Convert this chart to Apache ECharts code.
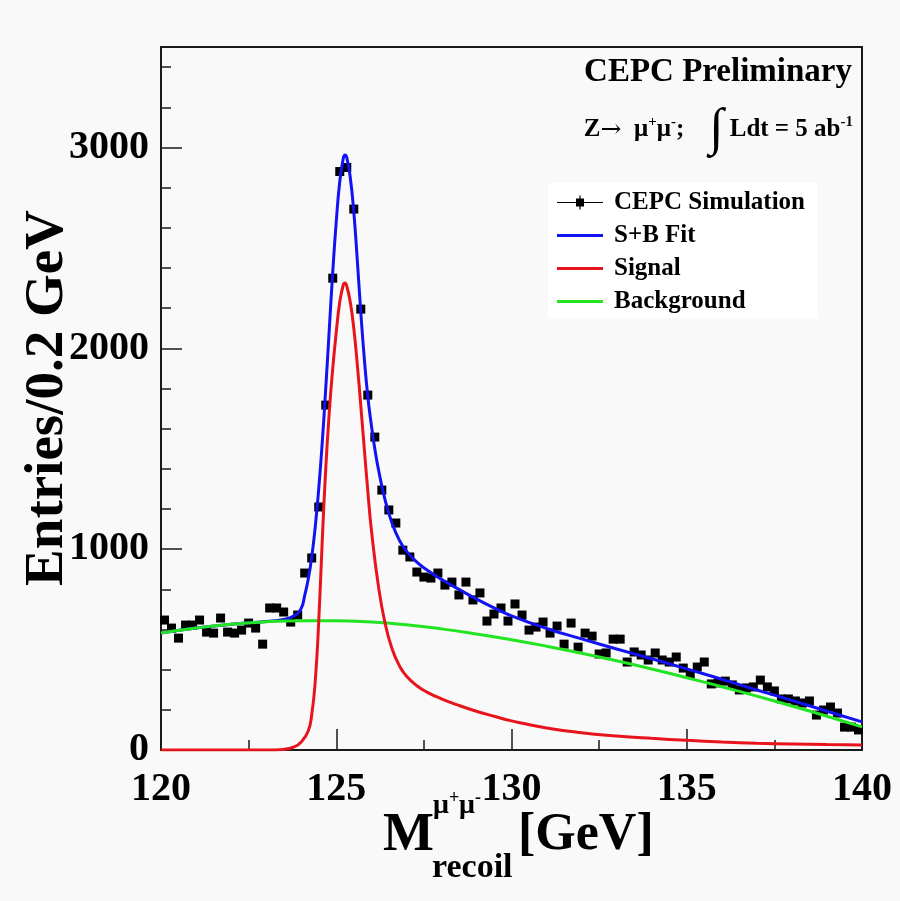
<!DOCTYPE html>
<html>
<head>
<meta charset="utf-8">
<script src="https://cdn.jsdelivr.net/npm/echarts@6/dist/echarts.min.js"></script>
<style>
html,body{margin:0;padding:0;background:#f9f9f9;}
#chart{width:900px;height:901px;}
</style>
</head>
<body>
<div id="chart"></div>
<script>
// ---------------- data ----------------
const binLow = 120;
const binWidth = 0.2;
// CEPC simulation entries per 0.2 GeV bin, 120.0 - 140.0 GeV (100 bins)
const counts = [
  647, 607, 557, 622, 622, 647, 587, 582, 657, 587,
  582, 597, 632, 607, 527, 707, 707, 687, 637, 672,
  881, 956, 1210, 1717, 2349, 2880, 2900, 2693, 2195, 1767,
  1558, 1294, 1195, 1130, 995, 961, 886, 861, 856, 881,
  821, 836, 772, 836, 747, 782, 642, 677, 707, 642,
  727, 672, 597, 612, 637, 582, 617, 527, 632, 512,
  582, 567, 478, 483, 552, 552, 438, 488, 473, 448,
  483, 448, 438, 463, 408, 378, 413, 438, 329, 334,
  343, 324, 299, 309, 314, 348, 314, 294, 254, 254,
  244, 234, 244, 174, 199, 214, 184, 114, 114, 100
];
// S+B fit curve
const fitX = [120,121,122,123,123.5,123.8,124.0,124.1,124.2,124.3,124.4,124.5,124.6,124.7,124.8,124.9,
  125.0,125.1,125.2,125.25,125.3,125.4,125.5,125.6,125.7,125.8,125.9,126.0,126.1,126.2,126.4,126.6,126.8,
  127.0,127.3,127.6,128.0,128.5,129.0,129.5,130,131,132,133,134,135,136,137,138,139,140];
const fitY = [582,607,626,640,650,668,705,770,850,960,1110,1300,1530,1800,2090,2380,
  2630,2830,2945,2962,2950,2850,2680,2440,2180,1950,1760,1620,1500,1400,1240,1125,1045,
  990,935,895,850,800,752,708,668,605,553,503,454,404,352,299,247,193,140];
// Signal curve
const sigX = [120,123,123.5,123.8,124.0,124.2,124.3,124.4,124.5,124.6,124.7,124.8,124.9,
  125.0,125.1,125.2,125.25,125.3,125.4,125.5,125.6,125.7,125.8,125.9,126.0,126.2,126.4,126.6,126.8,
  127.0,127.3,127.6,128.0,128.5,129.0,129.5,130,131,132,133,134,135,136,137,138,139,140];
const sigY = [0,0,3,15,40,95,175,340,640,1040,1400,1680,1900,
  2080,2230,2315,2325,2310,2230,2100,1920,1715,1500,1290,1100,820,625,500,420,
  368,320,287,255,222,193,168,145,110,86,70,58,48,40,34,30,27,25];
// Background curve
const bgX = [120,121,122,123,124,125,126,127,128,129,130,131,132,133,134,135,136,137,138,139,140];
const bgY = [582,607,626,638,644,644,637,623,603,578,549,517,482,444,403,360,315,268,219,168,115];

const seriesNames = ['CEPC Simulation', 'S+B Fit', 'Signal', 'Background'];
const xRange = [120, 140];
const yRange = [0, 3500];

// ---------------- build ----------------
const zip = (xs, ys) => xs.map((x, i) => [x, ys[i]]);
const pointData = counts.map((c, i) => [binLow + binWidth * (i + 0.5), c]);

const FONT = "'Liberation Serif', 'Times New Roman', serif";
const BLUE = '#1212f2', RED = '#e8141c', GREEN = '#22e422';
const lineIcon = 'path://M0,0 M46,16 M0,6.5 H46 V9.5 H0 Z';

const chart = echarts.init(document.getElementById('chart'), null, {renderer: 'canvas'});
chart.setOption({
  backgroundColor: '#f9f9f9',
  animation: false,
  grid: {left: 161, top: 47, width: 701, height: 703, show: true, containLabel: false,
         outerBoundsMode: 'none',
         borderColor: '#1a1a1a', borderWidth: 2, backgroundColor: 'transparent'},
  legend: {
    orient: 'vertical', left: 548, top: 183,
    backgroundColor: '#ffffff', padding: [7, 12, 4, 9],
    itemWidth: 46, itemHeight: 16, itemGap: 8,
    textStyle: {fontFamily: FONT, fontWeight: 'bold', fontSize: 25, color: '#000', padding: [0, 0, 0, 6]},
    itemStyle: {borderWidth: 0},
    data: [
      {name: seriesNames[0], icon: 'path://M0,0 M46,16 M0,7.4 H46 V8.6 H0 Z M19,4 H27 V12 H19 Z M22.4,1 H23.6 V15 H22.4 Z'},
      {name: seriesNames[1], icon: lineIcon},
      {name: seriesNames[2], icon: lineIcon},
      {name: seriesNames[3], icon: lineIcon}
    ]
  },
  xAxis: {
    type: 'value', min: xRange[0], max: xRange[1], interval: 5,
    axisLine: {show: true, lineStyle: {color: '#1a1a1a', width: 2}},
    axisTick: {show: true, inside: true, length: 21, lineStyle: {color: '#1a1a1a', width: 1.5}},
    minorTick: {show: true, splitNumber: 2, length: 10, lineStyle: {color: '#1a1a1a', width: 1.5}},
    axisLabel: {fontFamily: FONT, fontWeight: 'bold', fontSize: 40, color: '#000', margin: 20},
    splitLine: {show: false}, minorSplitLine: {show: false}
  },
  yAxis: [
    {
      type: 'value', min: yRange[0], max: yRange[1], interval: 1000,
      axisLine: {show: true, lineStyle: {color: '#1a1a1a', width: 2}},
      axisTick: {show: true, inside: true, length: 21, lineStyle: {color: '#1a1a1a', width: 1.5}},
      axisLabel: {fontFamily: FONT, fontWeight: 'bold', fontSize: 40, color: '#000', margin: 12,
                  showMaxLabel: false, formatter: v => (v % 1000 === 0 ? String(v) : '')},
      splitLine: {show: false}
    },
    {
      type: 'value', min: yRange[0], max: yRange[1], interval: 200, position: 'left',
      axisLine: {show: false},
      axisTick: {show: true, inside: true, length: 10, lineStyle: {color: '#1a1a1a', width: 1.5}},
      axisLabel: {show: false}, splitLine: {show: false}
    }
  ],
  series: [
    {name: seriesNames[0], type: 'scatter', data: pointData, symbol: 'rect', symbolSize: 9,
     itemStyle: {color: '#000', opacity: 1}, z: 2},
    {name: seriesNames[1], type: 'line', data: zip(fitX, fitY), showSymbol: false, smooth: 0.5,
     lineStyle: {color: BLUE, width: 3}, itemStyle: {color: BLUE}, z: 3},
    {name: seriesNames[3], type: 'line', data: zip(bgX, bgY), showSymbol: false, smooth: 0.5,
     lineStyle: {color: GREEN, width: 3}, itemStyle: {color: GREEN}, z: 4},
    {name: seriesNames[2], type: 'line', data: zip(sigX, sigY), showSymbol: false, smooth: 0.5,
     lineStyle: {color: RED, width: 3}, itemStyle: {color: RED}, z: 5}
  ],
  graphic: [
    // y axis title
    {type: 'text', x: 48, y: 398, rotation: Math.PI / 2, style: {text: 'Entries/0.2 GeV', fill: '#000',
      font: "bold 55px " + FONT, align: 'center', verticalAlign: 'middle'}},
    {type: 'text', x: 852, y: 72, style: {text: 'CEPC Preliminary', fill: '#000',
      font: "bold 33px " + FONT, align: 'right', verticalAlign: 'middle'}},
    {type: 'text', x: 853, y: 130, style: {
      text: '{a|Z}{ar|\u2192}{a|  \u03bc}{s|+}{a|\u03bc}{s|-}{a|;    }{i|\u222b}{a| Ldt = 5 ab}{s|-1}',
      align: 'right', verticalAlign: 'middle', fill: '#000',
      rich: {
        a: {fontFamily: FONT, fontWeight: 'bold', fontSize: 25, fill: '#000'},
        ar: {fontFamily: "'DejaVu Serif', serif", fontWeight: 'normal', fontSize: 25, fill: '#000'},
        s: {fontFamily: FONT, fontWeight: 'bold', fontSize: 15, fill: '#000', padding: [0, 0, 16, 0]},
        i: {fontFamily: FONT, fontWeight: 'normal', fontSize: 52, fill: '#000'}
      }}},
    // x axis title: M^{mu+mu-}_{recoil}[GeV]
    {type: 'text', x: 383, y: 836, style: {text: 'M', fill: '#000', font: "bold 54px " + FONT,
      align: 'left', verticalAlign: 'middle'}},
    {type: 'text', x: 433, y: 806, style: {text: '\u03bc', fill: '#000', font: "bold 28px " + FONT,
      align: 'left', verticalAlign: 'middle'}},
    {type: 'text', x: 449, y: 798, style: {text: '+', fill: '#000', font: "bold 18px " + FONT,
      align: 'left', verticalAlign: 'middle'}},
    {type: 'text', x: 459, y: 806, style: {text: '\u03bc', fill: '#000', font: "bold 28px " + FONT,
      align: 'left', verticalAlign: 'middle'}},
    {type: 'text', x: 475, y: 798, style: {text: '-', fill: '#000', font: "bold 18px " + FONT,
      align: 'left', verticalAlign: 'middle'}},
    {type: 'text', x: 432, y: 868, style: {text: 'recoil', fill: '#000', font: "bold 34px " + FONT,
      align: 'left', verticalAlign: 'middle'}},
    {type: 'text', x: 518, y: 836, style: {text: '[GeV]', fill: '#000', font: "bold 52px " + FONT,
      align: 'left', verticalAlign: 'middle'}}
  ]
});
</script>
</body>
</html>
